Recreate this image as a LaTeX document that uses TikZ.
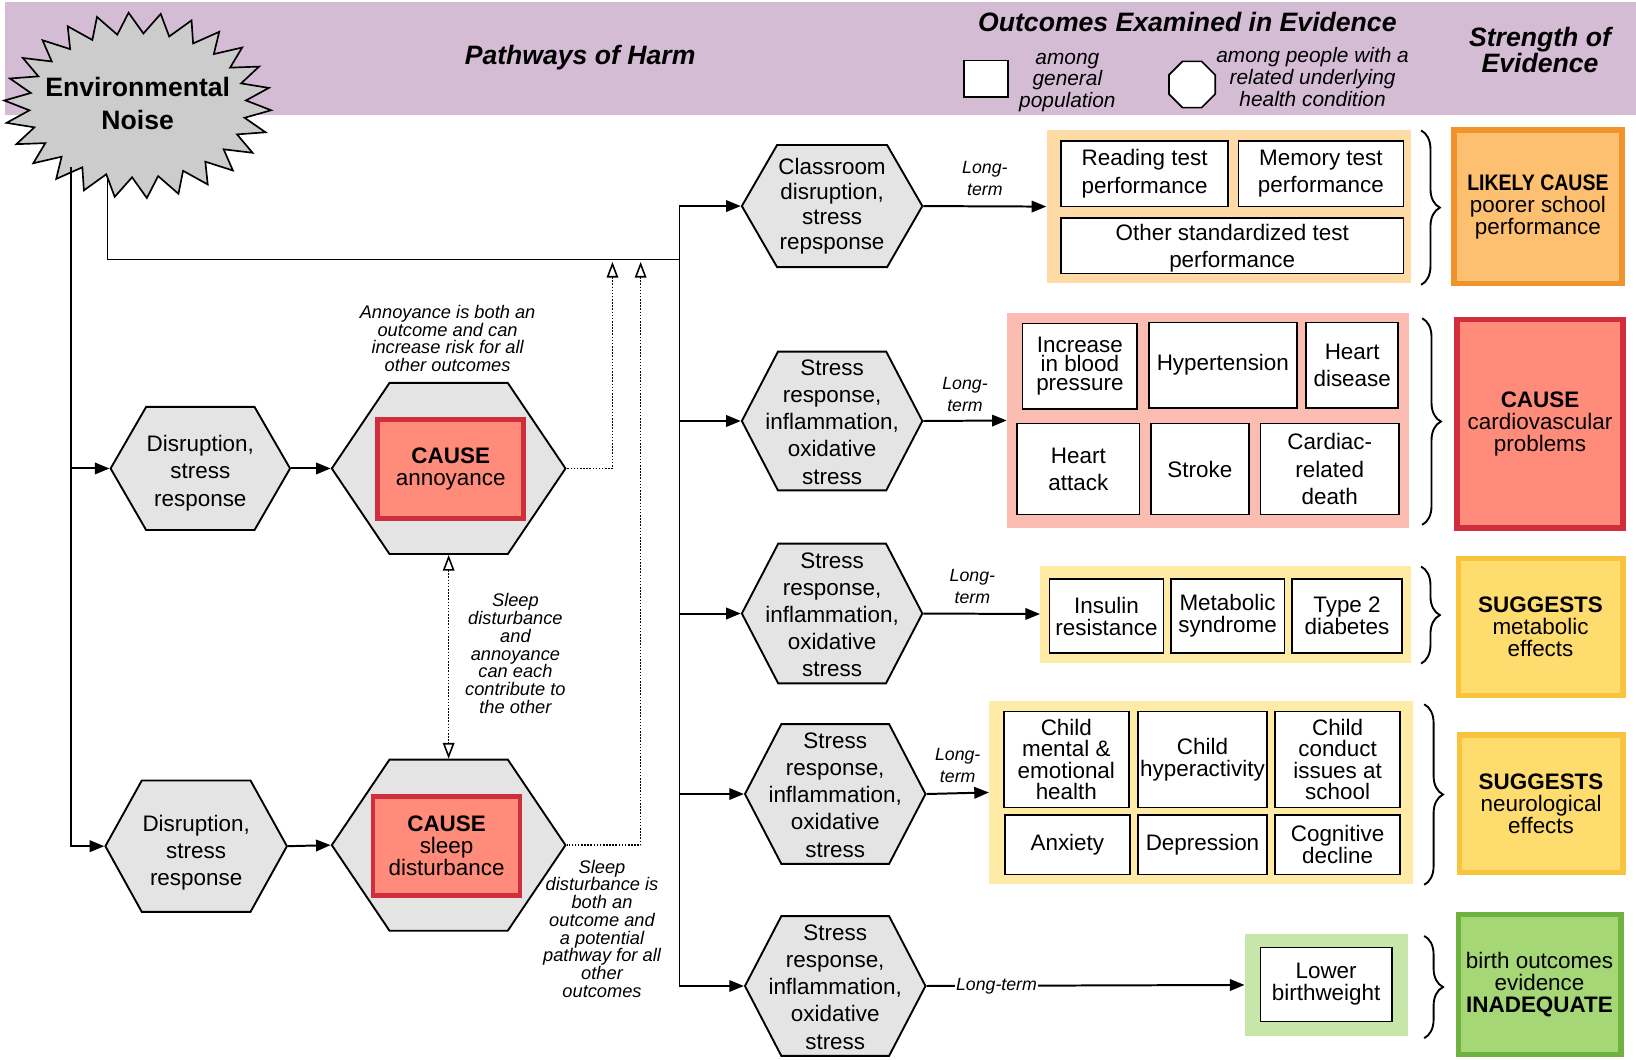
\documentclass[tikz,border=0pt]{standalone}
\usepackage{fontspec}
\setmainfont{Liberation Sans}
\usetikzlibrary{arrows.meta,shapes.symbols,shapes.geometric,decorations.pathreplacing}

\definecolor{band}{RGB}{212,188,212}
\definecolor{hexgray}{RGB}{228,228,228}
\definecolor{stargray}{RGB}{204,204,204}
\definecolor{peach}{RGB}{254,218,166}
\definecolor{pinkpanel}{RGB}{251,188,178}
\definecolor{paleyellow}{RGB}{255,234,166}
\definecolor{palegreen}{RGB}{199,230,170}
\definecolor{orangefill}{RGB}{253,192,112}
\definecolor{orangeline}{RGB}{240,147,43}
\definecolor{salmon}{RGB}{255,139,123}
\definecolor{redline}{RGB}{208,46,60}
\definecolor{yellowfill}{RGB}{255,220,110}
\definecolor{yellowline}{RGB}{250,195,60}
\definecolor{greenfill}{RGB}{165,215,118}
\definecolor{greenline}{RGB}{110,178,64}

\newcommand\fmain{\fontsize{21.5}{26}\selectfont}
\newcommand\ftight{\fontsize{21.5}{21}\selectfont}
\newcommand\fnote{\fontsize{17.5}{17}\selectfont\itshape}
\newcommand\ftitle{\fontsize{25.5}{25}\selectfont\bfseries\itshape}

\tikzset{opentip/.tip={Triangle[open,length=15pt,width=11pt,line width=1.5pt]}}

\begin{document}
\begin{tikzpicture}[x=1pt,y=-1pt,
  hexa/.style={shape=signal, signal to=east and west, draw, line width=1.8pt,
    fill=hexgray, inner sep=0pt},
  hextext/.style={align=center, inner sep=0pt, font=\fmain},
  obox/.style={draw, line width=1.6pt, fill=white, align=center, inner sep=0pt, font=\fmain},
  tight/.style={font=\ftight},
  panel/.style={inner sep=0pt},
  evid/.style={line width=5pt, align=center, inner sep=0pt, font=\ftight},
  cause/.style={fill=salmon, draw=redline, line width=4.5pt, align=center,
    inner sep=0pt, font=\ftight},
  flow/.style={line width=1.9pt, -{Triangle[length=14pt,width=11pt]}},
  trunk/.style={line width=1.3pt},
  dots/.style={line width=1.5pt, dash pattern=on 1.5pt off 1.5pt},
  note/.style={font=\fnote, align=center, inner sep=0pt},
  lbl/.style={font=\fontsize{17}{21}\selectfont\itshape, align=center, inner sep=1pt},
  curly/.style={decorate, decoration={brace, amplitude=18pt}, line width=1.8pt}]

\useasboundingbox (0,0) rectangle (1568,1015);

% header band
\fill[band] (5,2) rectangle (1568,110);

% lines leaving the noise source (covered by the star at their top end)
\coordinate (nA) at (68,160);
\coordinate (nB) at (103,160);
\coordinate (jn) at (651,249);
\draw[trunk] (nB) |- (jn);

% noise source
\draw[line width=1.6pt, fill=stargray]
  plot[samples=52, domain=0:51, variable=\k]
  ({132+(116+12*cos(180*\k))*cos(360/52*\k+3)}, {101+(79+10*cos(180*\k))*sin(360/52*\k+3)}) -- cycle;
\node[font=\fontsize{25.5}{32}\selectfont\bfseries, align=center] (noise) at (132,99)
  {Environmental\\Noise};

% titles and legend
\node[font=\ftitle] (tpath) at (556,55) {Pathways of Harm};
\node[font=\ftitle] (tout) at (1138,21) {Outcomes Examined in Evidence};
\node[font=\ftitle, align=center] (tstr) at (1476,47.5) {Strength of\\Evidence};
\node[draw, line width=1.6pt, fill=white, minimum width=42pt, minimum height=35pt,
  inner sep=0pt] (legsq) at (945,75.5) {};
\node[draw, line width=1.6pt, fill=white, regular polygon, regular polygon sides=8,
  minimum size=48pt, inner sep=0pt] (legoct) at (1142.5,81) {};
\node[font=\fontsize{20}{20.5}\selectfont\itshape, align=center] (leg1) at (1023,79)
  {among\\general\\population};
\node[font=\fontsize{20}{21}\selectfont\itshape, align=center] (leg2) at (1258,74)
  {among people with a\\related underlying\\health condition};

% left pathway hexagons
\node[hexa, minimum width=172pt, minimum height=118pt, signal pointer angle=120]
  (dis1) at (192,449) {};
\node[hextext] (dis1t) at (192,453.5) {Disruption,\\stress\\response};
\node[hexa, minimum width=224pt, minimum height=164pt, signal pointer angle=112]
  (ann) at (430,449) {};
\node[cause, minimum width=140pt, minimum height=95pt] (cann) at (432,449.5)
  {\textbf{CAUSE}\\annoyance};
\node[hexa, minimum width=174pt, minimum height=126pt, signal pointer angle=122]
  (dis2) at (188,811) {};
\node[hextext] (dis2t) at (188,817.5) {Disruption,\\stress\\response};
\node[hexa, minimum width=224pt, minimum height=164pt, signal pointer angle=112]
  (slp) at (430,810) {};
\node[cause, minimum width=141pt, minimum height=95pt] (cslp) at (428,811)
  {\textbf{CAUSE}\\sleep\\disturbance};

% right pathway hexagons
\node[hexa, minimum width=173pt, minimum height=117pt, signal pointer angle=120]
  (cls) at (797.5,197.5) {};
\node[hextext, font=\fontsize{21.5}{24}\selectfont] (clst) at (797.5,197.5)
  {Classroom\\disruption,\\stress\\repsponse};
\node[hexa, minimum width=173pt, minimum height=133pt, signal pointer angle=125]
  (s1) at (797.5,403.5) {};
\node[hextext] (s1t) at (797.5,404.5) {Stress\\response,\\inflammation,\\oxidative\\stress};
\node[hexa, minimum width=173pt, minimum height=134pt, signal pointer angle=125]
  (s2) at (797.5,588) {};
\node[hextext] (s2t) at (797.5,589) {Stress\\response,\\inflammation,\\oxidative\\stress};
\node[hexa, minimum width=173pt, minimum height=134pt, signal pointer angle=125]
  (s3) at (800.5,761) {};
\node[hextext] (s3t) at (800.5,762) {Stress\\response,\\inflammation,\\oxidative\\stress};
\node[hexa, minimum width=173pt, minimum height=134pt, signal pointer angle=125]
  (s4) at (800.5,945) {};
\node[hextext] (s4t) at (800.5,946) {Stress\\response,\\inflammation,\\oxidative\\stress};

% outcome panels
\node[panel, fill=peach, minimum width=349pt, minimum height=146pt] (bg1) at (1177.5,198) {};
\node[panel, fill=pinkpanel, minimum width=385pt, minimum height=206pt] (bg2) at (1157.5,403) {};
\node[panel, fill=paleyellow, minimum width=355pt, minimum height=93pt] (bg3) at (1174.5,588.5) {};
\node[panel, fill=paleyellow, minimum width=406pt, minimum height=175pt] (bg4) at (1151,759.5) {};
\node[panel, fill=palegreen, minimum width=156pt, minimum height=98pt] (bg5) at (1271,944) {};

% school outcomes
\node[obox, minimum width=160pt, minimum height=63pt] (o11) at (1097,166.5) {Reading test\\performance};
\node[obox, minimum width=158pt, minimum height=63pt] (o12) at (1266,166.5) {Memory test\\performance};
\node[obox, text depth=-3.5pt, minimum width=328pt, minimum height=53pt] (o13) at (1181,235.5)
  {Other standardized test\\performance};

% cardiovascular outcomes
\node[obox, font=\fontsize{21.5}{18.5}\selectfont, minimum width=110pt, minimum height=82pt]
  (o21) at (1035,351) {Increase\\in blood\\pressure};
\node[obox, minimum width=142pt, minimum height=82pt] (o22) at (1172,350) {Hypertension};
\node[obox, minimum width=88pt, minimum height=82pt] (o23) at (1296,350) {Heart\\disease};
\node[obox, minimum width=117pt, minimum height=87pt] (o24) at (1033.5,449.5) {Heart\\attack};
\node[obox, minimum width=94pt, minimum height=87pt] (o25) at (1150,449.5) {Stroke};
\node[obox, minimum width=133pt, minimum height=87pt] (o26) at (1274.5,449.5) {Cardiac-\\related\\death};

% metabolic outcomes
\node[obox, tight, minimum width=109pt, minimum height=71pt] (o31) at (1060.5,590.5) {Insulin\\resistance};
\node[obox, tight, minimum width=109pt, minimum height=71pt] (o32) at (1176.5,590.5) {Metabolic\\syndrome};
\node[obox, tight, minimum width=106pt, minimum height=71pt] (o33) at (1291,590.5) {Type 2\\diabetes};

% neurological outcomes
\node[obox, font=\fontsize{21.5}{20.7}\selectfont, minimum width=120pt, minimum height=92pt]
  (o41) at (1022,728) {Child\\mental \&\\emotional\\health};
\node[obox, tight, minimum width=123pt, minimum height=92pt] (o42) at (1152.5,728) {Child\\hyperactivity};
\node[obox, font=\fontsize{21.5}{20.7}\selectfont, minimum width=120pt, minimum height=92pt]
  (o43) at (1282,728) {Child\\conduct\\issues at\\school};
\node[obox, minimum width=120pt, minimum height=57pt] (o44) at (1023,809.5) {Anxiety};
\node[obox, minimum width=123pt, minimum height=57pt] (o45) at (1152.5,809.5) {Depression};
\node[obox, tight, minimum width=120pt, minimum height=57pt] (o46) at (1282,809.5) {Cognitive\\decline};

% birth outcome
\node[obox, tight, minimum width=126pt, minimum height=71pt] (o51) at (1271,943.5) {Lower\\birthweight};

% strength of evidence
\node[evid, fill=orangefill, draw=orangeline, minimum width=161pt, minimum height=147pt]
  (ev1) at (1474,198) {\textbf{\scalebox{0.87}[1]{LIKELY CAUSE}}\\poorer school\\performance};
\node[evid, fill=salmon, draw=redline, minimum width=159pt, minimum height=200pt]
  (ev2) at (1476,406) {\textbf{CAUSE}\\cardiovascular\\problems};
\node[evid, fill=yellowfill, draw=yellowline, minimum width=158pt, minimum height=131pt]
  (ev3) at (1476.5,601) {\textbf{SUGGESTS}\\metabolic\\effects};
\node[evid, fill=yellowfill, draw=yellowline, minimum width=157pt, minimum height=132pt]
  (ev4) at (1477,770.5) {\textbf{SUGGESTS}\\neurological\\effects};
\node[evid, fill=greenfill, draw=greenline, minimum width=156pt, minimum height=134pt]
  (ev5) at (1475.5,943.5) {birth outcomes\\evidence\\\textbf{INADEQUATE}};

% braces grouping outcomes
\draw[curly] (1362,125) -- (1362,273);
\draw[curly] (1363,305) -- (1363,503);
\draw[curly] (1362,543) -- (1362,636);
\draw[curly] (1365,675) -- (1365,848);
\draw[curly] (1365,897) -- (1365,995);

% notes
\node[note] (noteA) at (429,324.5) {Annoyance is both an\\outcome and can\\increase risk for all\\other outcomes};
\node[note] (noteB) at (494,626.5) {Sleep\\disturbance\\and\\annoyance\\can each\\contribute to\\the other};
\node[note] (noteC) at (577,890) {Sleep\\disturbance is\\both an\\outcome and\\a potential\\pathway for all\\other\\outcomes};

% connectors: left trunk
\draw[flow] (nA) |- (dis2.west);
\draw[flow] (nA |- dis1.west) -- (dis1.west);
\draw[flow] (dis1.east) -- (ann.west);
\draw[flow] (dis2.east) -- (slp.west);

% connectors: right trunk
\draw[trunk] (jn |- cls.west) -- (jn |- s4.west);
\draw[flow] (jn |- cls.west) -- (cls.west);
\draw[flow] (jn |- s1.west) -- (s1.west);
\draw[flow] (jn |- s2.west) -- (s2.west);
\draw[flow] (jn |- s3.west) -- (s3.west);
\draw[flow] (jn |- s4.west) -- (s4.west);

% feedback from annoyance and sleep disturbance
\coordinate (tipA) at (587,251);
\coordinate (tipB) at (614,251);
\draw[dots, {opentip}-] (tipA) |- (ann.east);
\draw[dots, {opentip}-] (tipB) |- (slp.east);
\draw[dots, {opentip}-{opentip}] (ann.south) -- (slp.north);

% long-term links to outcomes
\draw[flow] (cls.east) -- node[lbl, above=8pt] (l1) {Long-\\term} (bg1.west);
\draw[flow] (s1.east) -- node[lbl, above=7pt] (l2) {Long-\\term} (bg2.west);
\draw[flow] (s2.east) -- node[lbl, above=8pt, pos=0.42] (l3) {Long-\\term} (bg3.west);
\draw[flow] (s3.east) -- node[lbl, above=8pt] (l4) {Long-\\term} (bg4.west);
\draw[flow] (s4.east) -- node[lbl, fill=white, pos=0.22] (l5) {Long-term} (bg5.west);

\end{tikzpicture}
\end{document}
